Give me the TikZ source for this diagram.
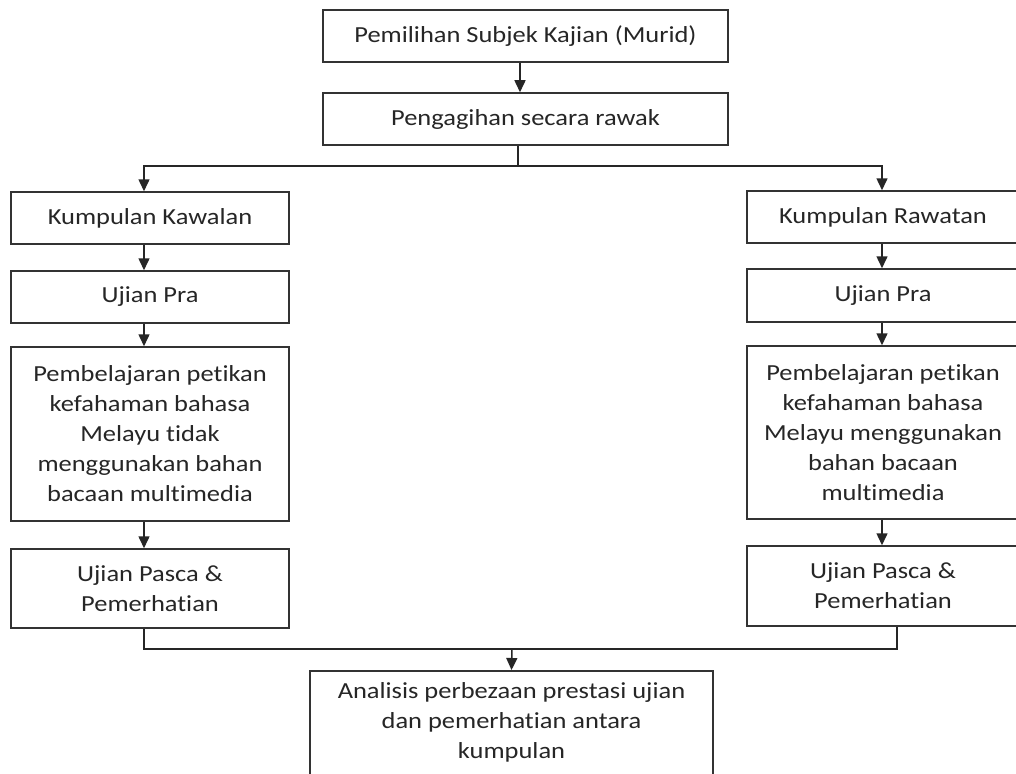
\documentclass[tikz,border=0pt]{standalone}
\usepackage{fontspec}
\setmainfont{Carlito}[FakeStretch=1.15,Ligatures=NoCommon]
\usetikzlibrary{arrows.meta}

\begin{document}
\begin{tikzpicture}[x=1pt,y=-1pt,
  box/.style={draw=black!80,line width=1.5pt,align=center,inner sep=0pt,
    text=black!85,font=\fontsize{23}{30}\selectfont},
  left box/.style={box,minimum width=278pt},
  right box/.style={box,minimum width=272pt},
  arr/.style={draw=black!85,line width=1.5pt,-{Triangle[length=12pt,width=11pt]}},
  lin/.style={draw=black!85,line width=1.5pt}]

  \path[fill=white,use as bounding box] (0,0) rectangle (1016,773);

  % top
  \node[box,minimum width=405pt,minimum height=52pt] (pilih) at (525.5,36)
    {Pemilihan Subjek Kajian (Murid)};
  \node[box,minimum width=405pt,minimum height=52pt] (agih) at (525.5,119)
    {Pengagihan secara rawak};

  % kumpulan kawalan
  \node[left box,minimum height=52pt] (kawal) at (150,218) {Kumpulan Kawalan};
  \node[left box,minimum height=52pt] (praL) at (150,297) {Ujian Pra};
  \node[left box,minimum height=174pt] (ajarL) at (150,434)
    {Pembelajaran petikan\\ kefahaman bahasa\\ Melayu tidak\\ menggunakan bahan\\ bacaan multimedia};
  \node[left box,minimum height=79pt] (pascaL) at (150,588.5)
    {Ujian Pasca \&\\ Pemerhatian};

  % kumpulan rawatan
  \node[right box,minimum height=52pt] (rawat) at (883,217) {Kumpulan Rawatan};
  \node[right box,minimum height=53pt] (praR) at (883,295.5) {Ujian Pra};
  \node[right box,minimum height=173pt] (ajarR) at (883,432.5)
    {Pembelajaran petikan\\ kefahaman bahasa\\ Melayu menggunakan\\ bahan bacaan\\ multimedia};
  \node[right box,minimum height=80pt] (pascaR) at (883,586)
    {Ujian Pasca \&\\ Pemerhatian};

  % bottom
  \node[box,minimum width=403pt,anchor=north,inner ysep=12pt] (analisis) at (511.5,670)
    {Analisis perbezaan prestasi ujian\\ dan pemerhatian antara\\ kumpulan};

  \coordinate (pecah) at (518,166);
  \coordinate (cantum) at (512,649);

  \draw[arr] ([xshift=-5.5pt]pilih.south) -- ([xshift=-5.5pt]agih.north);
  \draw[lin] ([xshift=-7.5pt]agih.south) -- (pecah);
  \draw[arr] (pecah) -| ([xshift=-6pt]kawal.north);
  \draw[arr] (pecah) -| ([xshift=-1pt]rawat.north);

  \foreach \a/\b in {kawal/praL, praL/ajarL, ajarL/pascaL}
    \draw[arr] ([xshift=-6pt]\a.south) -- ([xshift=-6pt]\b.north);
  \foreach \a/\b in {rawat/praR, praR/ajarR, ajarR/pascaR}
    \draw[arr] ([xshift=-1pt]\a.south) -- ([xshift=-1pt]\b.north);

  \draw[lin] ([xshift=-6pt]pascaL.south) |- (cantum);
  \draw[lin] ([xshift=14pt]pascaR.south) |- (cantum);
  \draw[arr] (cantum) -- (analisis.north);

\end{tikzpicture}
\end{document}
